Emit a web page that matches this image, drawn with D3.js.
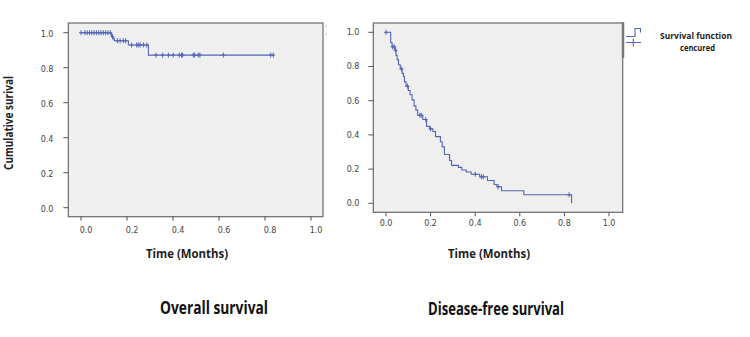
<!DOCTYPE html>
<html>
<head>
<meta charset="utf-8">
<script src="https://cdn.jsdelivr.net/npm/d3@7"></script>
<style>
  body { margin: 0; background: #fff; }
  svg { display: block; }
</style>
</head>
<body>
<div id="chart"></div>
<script>
// tick values
const xTicks = [0, 0.2, 0.4, 0.6, 0.8, 1.0];
const yTicks = [0, 0.2, 0.4, 0.6, 0.8, 1.0];

// Overall survival: step times and survival after each step
const osTimes = [0, 0.133, 0.14, 0.145, 0.206, 0.293, 0.836];
const osSurv  = [1, 0.977, 0.965, 0.954, 0.93, 0.872, 0.872];
const osCensor = [0, 0.017, 0.027, 0.037, 0.047, 0.057, 0.067, 0.077, 0.087, 0.097, 0.107, 0.117, 0.127,
  0.137, 0.158, 0.17, 0.184, 0.194, 0.22, 0.242, 0.249, 0.257, 0.271, 0.286,
  0.326, 0.355, 0.38, 0.401, 0.427, 0.437, 0.442, 0.488, 0.494, 0.51, 0.517, 0.619, 0.825, 0.836];

// Disease-free survival
const dfsTimes = [0, 0.021, 0.027, 0.04, 0.045, 0.05, 0.056, 0.064, 0.072, 0.078, 0.083, 0.09, 0.1,
  0.108, 0.117, 0.126, 0.134, 0.142, 0.165, 0.182, 0.196, 0.21, 0.222, 0.244, 0.252, 0.262, 0.285,
  0.294, 0.325, 0.34, 0.36, 0.382, 0.42, 0.455, 0.485, 0.498, 0.518, 0.618, 0.832];
const dfsSurv  = [1, 0.94, 0.915, 0.895, 0.865, 0.84, 0.81, 0.785, 0.76, 0.74, 0.71, 0.685, 0.66,
  0.635, 0.605, 0.57, 0.545, 0.515, 0.49, 0.45, 0.435, 0.42, 0.39, 0.36, 0.33, 0.285, 0.25,
  0.222, 0.21, 0.195, 0.183, 0.17, 0.155, 0.133, 0.11, 0.097, 0.073, 0.05, 0];
const dfsCensor = [0, 0.03, 0.037, 0.043, 0.07, 0.096, 0.152, 0.158, 0.178, 0.2, 0.4, 0.428, 0.436, 0.503, 0.821];

const lineColor = "#5265b6";
const W = 750, H = 337;

const svg = d3.select("#chart").append("svg")
  .attr("width", W).attr("height", H);

svg.append("rect").attr("width", W).attr("height", H).attr("fill", "#fff");

function survAt(times, surv, t) {
  let s = surv[0];
  for (let i = 0; i < times.length; i++) {
    if (times[i] <= t) s = surv[i];
  }
  return s;
}

function drawPanel(p) {
  const x = d3.scaleLinear().domain([0, 1]).range(p.xRange);
  const y = d3.scaleLinear().domain([0, 1]).range(p.yRange);
  const g = svg.append("g");

  // plot box
  g.append("rect")
    .attr("x", p.box[0]).attr("y", p.box[1])
    .attr("width", p.box[2] - p.box[0]).attr("height", p.box[3] - p.box[1])
    .attr("fill", "#efefef").attr("stroke", "#6a6a6a").attr("stroke-width", 1.2);

  // y ticks
  g.selectAll(".yt").data(yTicks).enter().append("line")
    .attr("x1", p.box[0] - 5).attr("x2", p.box[0])
    .attr("y1", d => y(d)).attr("y2", d => y(d))
    .attr("stroke", "#555").attr("stroke-width", 1);
  g.selectAll(".yl").data(yTicks).enter().append("text")
    .attr("x", p.yLabelX).attr("y", d => y(d) + p.yLabelDy)
    .attr("text-anchor", "middle")
    .attr("dy", "0.35em")
    .style("font-family", "DejaVu Sans").style("font-size", "8px").style("fill", "#444")
    .text(d => d3.format(".1f")(d));

  // x ticks
  g.selectAll(".xt").data(xTicks).enter().append("line")
    .attr("x1", d => x(d)).attr("x2", d => x(d))
    .attr("y1", p.box[3]).attr("y2", p.box[3] + 4)
    .attr("stroke", "#555").attr("stroke-width", 1);
  g.selectAll(".xl").data(xTicks).enter().append("text")
    .attr("x", d => x(d) + p.xLabelDx).attr("y", p.xLabelY)
    .attr("text-anchor", "middle")
    .attr("dy", "0.35em")
    .style("font-family", "DejaVu Sans").style("font-size", "8px").style("fill", "#444")
    .text(d => d3.format(".1f")(d));

  // survival curve
  const pts = p.times.map((t, i) => [t, p.surv[i]]);
  const line = d3.line().x(d => x(d[0])).y(d => y(d[1])).curve(d3.curveStepAfter);
  g.append("path").datum(pts)
    .attr("d", line)
    .attr("fill", "none").attr("stroke", lineColor).attr("stroke-width", 1.1);

  // censor marks
  g.selectAll(".cen").data(p.censor).enter().append("path")
    .attr("d", d => {
      const cx = x(d), cy = y(survAt(p.times, p.surv, d));
      return `M${cx - 2},${cy}H${cx + 2}M${cx},${cy - 2.5}V${cy + 2.5}`;
    })
    .attr("stroke", lineColor).attr("stroke-width", 1);

  // axis title
  g.append("text")
    .attr("x", p.timeX).attr("y", 258)
    .attr("text-anchor", "middle")
    .attr("textLength", 82).attr("lengthAdjust", "spacingAndGlyphs")
    .style("font-family", "Open Sans").style("font-weight", "bold").style("font-size", "12px")
    .style("fill", "#222")
    .text("Time (Months)");

  // panel title
  g.append("text")
    .attr("x", p.titleX).attr("y", p.titleY)
    .attr("text-anchor", "middle")
    .attr("textLength", p.titleW).attr("lengthAdjust", "spacingAndGlyphs")
    .style("font-family", "Open Sans").style("font-weight", "bold").style("font-size", "17px")
    .style("fill", "#111")
    .text(p.title);
}

drawPanel({
  xRange: [81, 311], yRange: [207.7, 32.7],
  box: [68.3, 23, 323, 216.7],
  yLabelX: 47, yLabelDy: 1, xLabelDx: 5, xLabelY: 230.5,
  times: osTimes, surv: osSurv, censor: osCensor,
  timeX: 187, title: "Overall survival", titleX: 214, titleY: 314, titleW: 108
});

drawPanel({
  xRange: [386, 609], yRange: [203.3, 32.3],
  box: [373.3, 23, 622.7, 212.3],
  yLabelX: 353, yLabelDy: 0, xLabelDx: 0, xLabelY: 223.3,
  times: dfsTimes, surv: dfsSurv, censor: dfsCensor,
  timeX: 489, title: "Disease-free survival", titleX: 496, titleY: 315, titleW: 136
});

// y axis title
svg.append("text")
  .attr("transform", "translate(13,123) rotate(-90)")
  .attr("text-anchor", "middle")
  .attr("textLength", 94).attr("lengthAdjust", "spacingAndGlyphs")
  .style("font-family", "Open Sans").style("font-weight", "bold").style("font-size", "11.5px")
  .style("fill", "#222")
  .text("Cumulative surival");

// faint marks right of left box
svg.append("path")
  .attr("d", "M326,25V27.5M326,33V35.5")
  .attr("stroke", "#ccc").attr("stroke-width", 1.2);

// darker edge segment on right box
svg.append("line")
  .attr("x1", 623).attr("x2", 623).attr("y1", 22).attr("y2", 58)
  .attr("stroke", "#777").attr("stroke-width", 2.5);

// legend
const leg = svg.append("g");
leg.append("path")
  .attr("d", "M626,36.5H635V28.5H640.5V32.5")
  .attr("fill", "none").attr("stroke", lineColor).attr("stroke-width", 1.1);
leg.append("path")
  .attr("d", "M626,42.5H641M633.3,38.5V46.5")
  .attr("stroke", lineColor).attr("stroke-width", 1.1);
leg.append("text")
  .attr("x", 696).attr("y", 38.5)
  .attr("text-anchor", "middle")
  .attr("textLength", 72).attr("lengthAdjust", "spacingAndGlyphs")
  .style("font-family", "Open Sans").style("font-weight", "bold").style("font-size", "9.5px")
  .style("fill", "#222")
  .text("Survival function");
leg.append("text")
  .attr("x", 697.5).attr("y", 50.5)
  .attr("text-anchor", "middle")
  .attr("textLength", 35).attr("lengthAdjust", "spacingAndGlyphs")
  .style("font-family", "Open Sans").style("font-weight", "bold").style("font-size", "9.5px")
  .style("fill", "#222")
  .text("cencured");
</script>
</body>
</html>
